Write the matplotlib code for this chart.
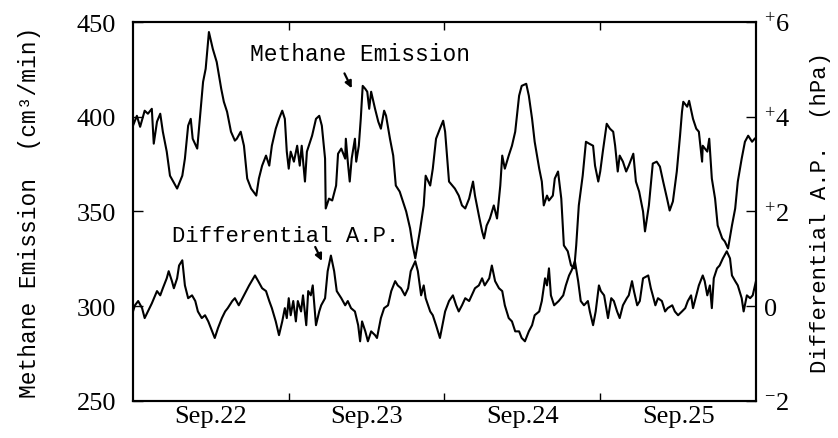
#%% Import packages

import matplotlib
matplotlib.use('Agg')
import matplotlib.pyplot as plt
import numpy as np


#%% Set matplotlib general parameters

plt.rcParams['font.family'] = 'Liberation Serif'
plt.rcParams['mathtext.fontset'] = 'custom'
plt.rcParams['mathtext.rm'] = 'Liberation Serif'
plt.rcParams['mathtext.it'] = 'Liberation Serif'
plt.rcParams['xtick.labelsize'] = 19
plt.rcParams['ytick.labelsize'] = 19
mono = 'Liberation Mono'


#%% Data (hours since Sep.22 00:00)

#methane emission, cm3/min (left axis)
ch4_hours = [0.0, 0.6, 1.1, 1.8, 2.3, 2.9, 3.2, 3.7, 4.2, 4.6,
             5.2, 5.7, 6.2, 6.8, 7.6, 8.0, 8.5, 8.9, 9.2, 9.9,
             10.3, 10.8, 11.2, 11.7, 12.3, 12.9, 13.6, 14.0, 14.5, 15.1,
             15.7, 16.0, 16.6, 17.1, 17.6, 18.2, 19.0, 19.4, 19.9, 20.5,
             21.0, 21.4, 22.0, 22.5, 23.0, 23.4, 23.7, 24.0, 24.3, 24.8,
             25.3, 25.7, 26.0, 26.5, 26.8, 27.6, 28.2, 28.7, 29.1, 29.6,
             29.7, 30.2, 30.7, 31.3, 31.6, 32.1, 32.7, 32.8, 33.1, 33.4,
             33.7, 34.2, 34.4, 34.8, 35.1, 35.4, 35.8, 36.1, 36.4, 36.7,
             37.3, 37.8, 38.2, 38.7, 39.0, 39.6, 40.1, 40.5, 41.1, 41.6,
             42.1, 42.7, 43.1, 43.5, 44.2, 44.8, 45.1, 45.8, 46.2, 46.7,
             47.3, 47.8, 48.1, 48.7, 49.2, 49.6, 50.2, 50.7, 51.2, 51.8,
             52.4, 52.7, 53.3, 53.8, 54.1, 54.5, 55.0, 55.6, 56.1, 56.6,
             56.9, 57.3, 57.9, 58.4, 58.9, 59.5, 59.9, 60.6, 61.0, 61.5,
             61.9, 62.6, 63.0, 63.3, 63.8, 64.1, 64.7, 65.0, 65.5, 66.0,
             66.4, 67.0, 67.5, 68.0, 68.3, 68.7, 69.3, 69.8, 70.3, 70.9,
             71.2, 71.7, 72.0, 72.4, 73.0, 73.5, 74.0, 74.3, 74.7, 75.0,
             75.5, 76.0, 76.4, 77.1, 77.5, 78.0, 78.6, 78.9, 79.5, 80.1,
             80.7, 81.2, 81.7, 82.3, 82.7, 83.2, 83.8, 84.3, 84.6, 84.8,
             85.4, 85.7, 86.3, 86.8, 87.2, 87.7, 87.8, 88.5, 88.8, 89.2,
             89.7, 90.1, 90.8, 91.2, 91.7, 92.3, 92.8, 93.2, 93.8, 94.3,
             94.8, 95.4, 95.8]
ch4_values = [395.3, 400.5, 394.7, 403.2, 401.6, 404.2, 385.8, 397.4, 401.6, 392.1,
              381.6, 368.9, 365.8, 362.1, 368.9, 377.9, 395.3, 398.9, 388.4, 383.2,
              398.9, 418.4, 425.3, 444.7, 435.8, 428.9, 414.7, 407.9, 402.6, 392.1,
              387.4, 388.4, 392.1, 384.7, 367.4, 362.1, 358.4, 367.4, 374.2, 379.5,
              374.2, 384.7, 393.7, 398.9, 403.2, 398.9, 381.6, 372.6, 381.6, 376.3,
              384.7, 374.2, 384.7, 365.8, 381.6, 390.0, 398.9, 400.5, 395.3, 377.9,
              351.6, 356.8, 355.8, 363.7, 380.5, 383.2, 377.9, 388.4, 376.3, 365.8,
              377.9, 388.4, 376.3, 384.7, 398.9, 416.3, 414.7, 413.2, 404.2, 413.2,
              404.2, 397.4, 393.7, 403.2, 400.5, 388.4, 379.5, 363.7, 360.5, 355.3,
              350.0, 341.1, 332.1, 325.3, 339.5, 353.2, 368.9, 363.7, 372.6, 388.4,
              393.7, 397.9, 392.1, 365.8, 363.7, 362.1, 358.4, 353.2, 351.6, 356.8,
              365.8, 358.4, 347.9, 339.5, 335.8, 342.6, 346.3, 353.2, 346.3, 363.7,
              379.5, 372.6, 379.5, 384.7, 392.1, 411.1, 416.3, 417.4, 411.1, 398.9,
              386.8, 372.6, 365.8, 353.2, 358.4, 355.8, 358.4, 367.4, 371.1, 356.8,
              332.1, 329.0, 321.6, 320.0, 332.1, 353.2, 368.9, 386.8, 385.8, 384.7,
              374.2, 365.8, 371.1, 381.6, 396.3, 393.7, 392.1, 384.7, 371.1, 379.5,
              376.3, 371.1, 374.2, 380.5, 365.8, 360.5, 350.0, 339.5, 353.2, 375.3,
              376.3, 373.7, 365.8, 356.8, 350.5, 355.3, 371.1, 390.0, 402.6, 407.9,
              405.3, 408.4, 398.9, 393.7, 392.1, 376.3, 384.7, 381.6, 388.4, 367.4,
              356.8, 342.6, 335.8, 334.2, 330.5, 342.6, 351.6, 365.8, 377.9, 386.8,
              390.0, 386.8, 388.4]

#differential atmospheric pressure, hPa (right axis)
dap_hours = [0.0, 0.3, 0.8, 1.4, 1.8, 2.3, 2.9, 3.7, 4.2, 4.6,
             5.2, 5.5, 6.0, 6.3, 6.8, 7.1, 7.6, 8.0, 8.5, 9.1,
             9.6, 10.0, 10.6, 11.1, 11.6, 12.2, 12.6, 13.1, 13.7, 14.2,
             14.6, 15.3, 15.7, 16.3, 17.1, 17.9, 18.8, 19.3, 19.9, 20.5,
             21.0, 21.4, 22.0, 22.5, 23.0, 23.4, 23.7, 24.0, 24.3, 24.7,
             25.1, 25.4, 25.9, 26.2, 26.7, 27.0, 27.4, 27.7, 28.2, 28.7,
             29.0, 29.6, 30.0, 30.5, 31.0, 31.4, 32.1, 32.7, 33.1, 33.6,
             34.2, 34.7, 35.0, 35.3, 35.8, 36.2, 36.7, 37.3, 37.6, 38.2,
             38.7, 39.3, 39.8, 40.4, 40.8, 41.3, 41.9, 42.4, 42.8, 43.5,
             43.9, 44.4, 44.8, 45.1, 45.8, 46.2, 46.7, 47.3, 47.8, 48.1,
             48.7, 49.3, 49.8, 50.2, 50.7, 51.2, 51.8, 52.2, 52.7, 53.3,
             53.8, 54.2, 54.9, 55.3, 55.8, 56.4, 56.9, 57.3, 57.9, 58.4,
             58.9, 59.5, 59.9, 60.4, 61.0, 61.5, 61.9, 62.6, 63.0, 63.5,
             63.8, 64.1, 64.4, 64.9, 65.6, 66.3, 66.7, 67.2, 67.6, 68.1,
             68.6, 69.0, 69.5, 70.1, 70.4, 70.9, 71.3, 71.8, 72.1, 72.6,
             73.2, 73.7, 74.1, 74.6, 75.0, 75.5, 76.1, 76.4, 76.9, 77.2,
             77.7, 78.1, 78.6, 79.4, 79.8, 80.1, 80.5, 80.9, 81.5, 82.0,
             82.4, 83.1, 83.5, 84.0, 84.6, 85.1, 85.5, 86.0, 86.3, 86.8,
             87.2, 87.8, 88.1, 88.5, 88.9, 89.2, 89.5, 90.0, 90.4, 90.9,
             91.5, 92.0, 92.3, 92.8, 93.2, 93.8, 94.1, 94.6, 95.1, 95.5,
             96.0]
dap_values = [-0.11, 0.02, 0.11, -0.04, -0.25, -0.11, 0.06, 0.32, 0.23, 0.38,
              0.59, 0.74, 0.53, 0.38, 0.59, 0.86, 0.97, 0.44, 0.17, 0.23,
              0.11, -0.11, -0.25, -0.19, -0.32, -0.53, -0.67, -0.46, -0.25, -0.11,
              -0.04, 0.11, 0.17, 0.02, 0.23, 0.44, 0.65, 0.53, 0.38, 0.32,
              0.11, -0.04, -0.32, -0.61, -0.32, -0.04, -0.25, 0.17, -0.19, 0.11,
              -0.32, 0.11, -0.11, 0.23, -0.40, 0.32, 0.23, 0.44, -0.40, -0.11,
              0.02, 0.17, 0.74, 1.07, 0.74, 0.32, 0.17, 0.02, 0.11, -0.04,
              -0.11, -0.40, -0.74, -0.32, -0.53, -0.74, -0.53, -0.61, -0.67, -0.25,
              -0.04, 0.02, 0.32, 0.53, 0.44, 0.38, 0.23, 0.38, 0.74, 0.95,
              0.74, 0.23, 0.44, 0.17, -0.11, -0.19, -0.40, -0.67, -0.32, -0.11,
              0.11, 0.23, 0.02, -0.11, 0.02, 0.17, 0.11, 0.23, 0.38, 0.44,
              0.59, 0.44, 0.59, 0.86, 0.53, 0.38, 0.32, 0.02, -0.25, -0.32,
              -0.53, -0.53, -0.67, -0.74, -0.53, -0.40, -0.19, -0.11, 0.11, 0.59,
              0.44, 0.80, 0.23, 0.02, 0.11, 0.23, 0.44, 0.65, 0.76, 0.95,
              0.53, 0.11, 0.02, 0.11, -0.11, -0.40, -0.11, 0.44, 0.32, 0.23,
              -0.25, 0.17, 0.11, -0.11, -0.25, 0.02, 0.17, 0.23, 0.53, 0.32,
              0.02, 0.11, 0.59, 0.65, 0.38, 0.23, 0.02, 0.17, 0.11, -0.11,
              -0.04, 0.02, -0.11, -0.19, -0.11, -0.04, 0.11, 0.23, -0.04, 0.23,
              0.44, 0.65, 0.53, 0.23, 0.44, -0.04, 0.59, 0.80, 0.86, 1.01,
              1.16, 1.01, 0.65, 0.53, 0.44, 0.17, -0.11, 0.23, 0.17, 0.23,
              0.53]

day_labels = ['Sep.22', 'Sep.23', 'Sep.24', 'Sep.25']
left_ticks = [250, 300, 350, 400, 450]
right_ticks = [-2, 0, 2, 4, 6]
right_ticklabels = [r'$^{-}$2', '0', r'$^{+}$2', r'$^{+}$4', r'$^{+}$6']


#%% Plot

fig = plt.figure(figsize=(8.38, 4.39), dpi=100)
ax1 = fig.add_axes([0.1587, 0.0843, 0.7434, 0.8633])
ax1.plot(ch4_hours, ch4_values, color='black', linewidth=1.5)
ax1.set_xlim(0, 96)
ax1.set_ylim(250, 450)
ax1.set_yticks(left_ticks)

#day boundaries get the tick marks, day names sit in the middle of each day
ax1.set_xticks([24, 48, 72])
ax1.set_xticklabels([])
ax1.set_xticks([12, 36, 60, 84], minor=True)
ax1.set_xticklabels(day_labels, minor=True)
ax1.tick_params(axis='x', which='major', direction='in', length=6, width=1, top=True)
ax1.tick_params(axis='x', which='minor', length=0, pad=3)
ax1.tick_params(axis='y', direction='in', length=7, width=1, pad=12)
ax1.set_ylabel('Methane Emission  (cm³/min)', family=mono, fontsize=16.5, labelpad=26)

ax2 = ax1.twinx()
ax2.plot(dap_hours, dap_values, color='black', linewidth=1.5)
ax2.set_ylim(-2, 6)
ax2.set_yticks(right_ticks)
ax2.set_yticklabels(right_ticklabels)
ax2.tick_params(axis='y', direction='in', length=7, width=1, pad=6)
ax2.set_ylabel('Differential A.P.  (hPa)', family=mono, fontsize=16, labelpad=14)

for a in (ax1, ax2):
    for s in a.spines.values():
        s.set_linewidth(1.5)

#labels with little arrows pointing at the curves
ax1.text(35.0, 433.5, 'Methane Emission', family=mono, fontsize=16.5,
         ha='center', va='center')
ax1.annotate('', xy=(33.9, 413.7), xytext=(32.4, 424.2),
             arrowprops=dict(arrowstyle='-|>', color='black', lw=1.6, mutation_scale=10))
ax1.text(23.6, 337.4, 'Differential A.P.', family=mono, fontsize=16,
         ha='center', va='center')
ax1.annotate('', xy=(29.3, 322.6), xytext=(27.9, 332.6),
             arrowprops=dict(arrowstyle='-|>', color='black', lw=1.6, mutation_scale=10))

plt.savefig('out.png', dpi=100)
plt.close()
